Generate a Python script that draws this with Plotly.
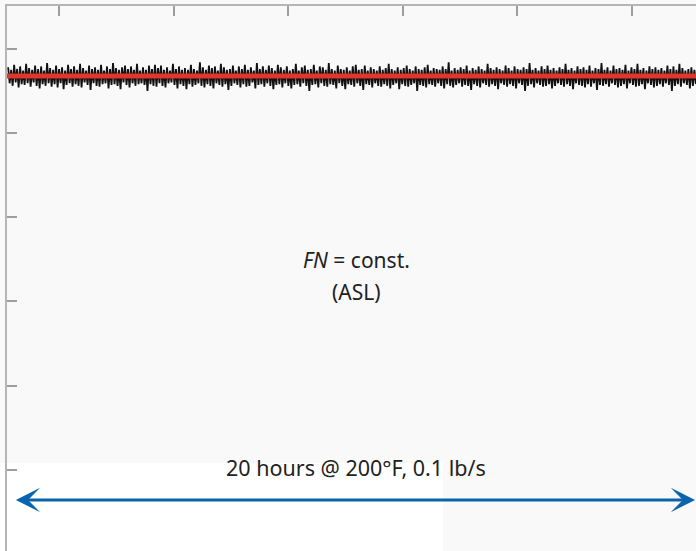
import numpy as np
import plotly.graph_objects as go

# ---------------- data ----------------
# FN signal samples (arbitrary units), noisy trace over the 20 h test
fn_signal = [
    57.8, 55.9, 57.5, 55.6, 58.1, 56.0, 57.6, 55.4, 57.9, 55.8,
    57.4, 55.7, 58.2, 55.9, 57.7, 55.5, 57.5, 56.0, 58.0, 55.6,
    57.6, 55.3, 57.9, 55.8, 57.4, 55.6, 58.3, 55.9, 57.7, 55.5,
    57.5, 55.8, 58.0, 55.4, 57.6, 55.9, 57.8, 55.2, 57.4, 55.7,
    58.1, 55.9, 57.6, 55.5, 57.9, 55.8, 57.5, 55.6, 58.2, 55.4,
    57.7, 56.0, 57.4, 55.7, 58.0, 55.1, 57.6, 55.9, 57.8, 55.6,
    57.5, 55.5, 58.1, 55.8, 57.4, 55.9, 57.9, 55.3, 57.6, 55.7,
    58.3, 55.8, 57.7, 55.6, 57.5, 55.2, 57.8, 56.0, 58.0, 55.7,
    57.6, 55.4, 57.9, 55.9, 57.5, 55.6, 58.2, 55.8, 57.4, 55.9,
    57.8, 55.7, 57.5, 55.0, 58.0, 55.8, 57.6, 55.6, 58.1, 55.5,
    57.7, 55.9, 58.0, 55.6, 57.5, 55.4, 57.8, 55.9, 57.4, 56.0,
    58.2, 55.7, 57.6, 55.3, 57.9, 55.8, 57.5, 55.6, 57.7, 55.2,
    57.5, 55.8, 58.1, 55.5, 57.6, 55.7, 57.4, 55.9, 58.4, 55.6,
    57.8, 55.4, 57.5, 55.8, 58.0, 55.6, 57.7, 55.3, 57.9, 55.9,
    57.4, 55.7, 58.2, 55.5, 57.8, 55.8, 57.5, 55.1, 57.6, 55.6,
    58.0, 55.9, 57.4, 55.7, 57.9, 55.4, 57.6, 55.8, 58.1, 55.5,
    57.5, 55.6, 57.8, 56.0, 57.4, 55.3, 58.3, 55.7, 57.6, 55.8,
    57.9, 55.5, 57.5, 55.9, 58.0, 55.6, 57.7, 55.2, 57.4, 55.7,
    58.1, 55.8, 57.8, 55.4, 57.5, 55.9, 57.9, 55.6, 57.4, 55.3,
    57.6, 55.7, 58.2, 55.8, 57.4, 55.5, 57.8, 55.9, 58.0, 55.6,
    57.5, 55.0, 57.6, 55.7, 58.1, 55.8, 57.4, 55.4, 57.9, 55.9,
    57.8, 55.6, 57.5, 55.5, 58.3, 55.8, 57.6, 55.7, 57.4, 55.3,
    58.0, 55.9, 57.6, 55.6, 57.5, 55.2, 57.8, 55.8, 57.4, 55.7,
    57.9, 55.5, 58.1, 55.9, 57.5, 55.6, 57.6, 55.1, 58.0, 55.8,
    57.4, 55.7, 57.8, 55.4, 57.6, 55.9, 57.4, 55.6, 57.9, 55.5,
    57.5, 55.8, 57.7, 55.6, 58.2, 55.3, 57.6, 55.7, 57.4, 55.9,
    57.8, 55.2, 57.5, 55.8, 57.7, 55.6, 58.0, 55.5, 57.6, 55.7,
    57.4, 55.9, 57.9, 55.0, 57.6, 55.7, 57.5, 55.6, 57.8, 55.4,
    58.1, 55.8, 57.4, 55.7, 57.7, 55.5, 57.6, 55.9, 57.5, 55.6,
    57.9, 55.3, 57.6, 55.8, 58.4, 55.6, 57.4, 55.4, 57.7, 55.7,
    57.5, 55.9, 57.8, 55.5, 57.6, 55.7, 58.0, 55.6, 57.4, 55.1,
    57.7, 55.8, 57.5, 55.6, 57.9, 55.4, 57.6, 55.9, 57.4, 55.7,
    58.2, 55.5, 57.7, 55.8, 57.5, 55.6, 57.8, 55.2, 57.6, 55.9,
    57.4, 55.7, 58.0, 55.5, 57.7, 55.8, 57.4, 55.6, 57.9, 55.3,
    57.6, 55.9, 57.5, 55.7, 57.8, 55.0, 57.6, 55.6, 58.3, 55.8,
    57.5, 55.4, 57.7, 55.9, 57.4, 55.7, 57.9, 55.5, 57.6, 55.6,
    58.0, 55.8, 57.5, 55.3, 57.7, 55.6, 57.4, 55.9, 57.8, 55.7,
    57.6, 55.5, 58.2, 55.8, 57.5, 55.6, 57.7, 55.2, 57.4, 55.9,
    57.9, 55.7, 57.6, 55.6, 57.8, 55.4, 57.5, 55.8, 58.0, 55.5,
    57.4, 55.9, 57.7, 55.1, 57.6, 55.7, 58.3, 55.6, 57.5, 55.8,
    57.8, 55.5, 57.4, 55.9, 58.0, 55.7, 57.6, 55.4, 57.7, 55.6,
    57.5, 55.8, 58.1, 55.3, 57.4, 55.9, 57.8, 55.7, 57.6, 55.5,
    58.2, 55.6, 57.5, 55.8, 57.7, 55.2, 57.4, 55.9, 57.9, 55.7,
    57.6, 55.4, 57.8, 55.6, 57.5, 55.8, 57.7, 55.5, 57.4, 55.9,
    58.0, 55.7, 57.6, 55.0, 57.9, 55.6, 57.5, 55.8, 58.2, 55.5,
    57.7, 55.9, 57.4, 55.7, 57.6, 55.3, 57.8, 55.6, 57.5, 55.8,
]
fn_const_level = 56.75               # red constant FN line (ASL)
time_start, time_end = 0.556, 6.56   # span of the recorded signal

x_range = [0.546, 6.561]
y_range = [0.34, 65.08]

label_center = "<i>FN</i> = const."
label_sub = "(ASL)"
label_bottom = "20 hours @ 200°F, 0.1 lb/s"

arrow_start, arrow_end, arrow_level = 0.610, 6.553, 6.40

# ---------------- figure ----------------
t = np.linspace(time_start, time_end, len(fn_signal))

fig = go.Figure()
fig.add_trace(go.Scatter(
    x=t, y=fn_signal, mode="lines",
    line=dict(color="#111111", width=1.8),
    hoverinfo="skip", showlegend=False,
))
fig.add_trace(go.Scatter(
    x=[x_range[0], x_range[1]], y=[fn_const_level, fn_const_level], mode="lines",
    line=dict(color="#e2352b", width=5),
    hoverinfo="skip", showlegend=False,
))

tick_style = dict(ticks="inside", ticklen=10, tickwidth=2, tickcolor="#9e9e9e",
                  showticklabels=False, showgrid=False, zeroline=False,
                  automargin=False)

fig.update_layout(
    width=696, height=551,
    margin=dict(l=7, r=0, t=6, b=0, pad=0, autoexpand=False),
    paper_bgcolor="#f9f9f9",
    plot_bgcolor="#f9f9f9",
    showlegend=False,
    xaxis=dict(range=x_range, side="top", showline=True, linecolor="#b5b5b5",
               linewidth=2, tick0=0, dtick=1, **tick_style),
    xaxis2=dict(range=x_range, overlaying="x", side="bottom", anchor="y",
                showline=False, tick0=0, dtick=1, **tick_style),
    yaxis=dict(range=y_range, side="left", showline=True, linecolor="#b5b5b5",
               linewidth=2, tick0=0, dtick=10, **tick_style),
    yaxis2=dict(range=y_range, overlaying="y", side="right", anchor="x",
                showline=False, tick0=0, dtick=10, **tick_style),
    font=dict(family="Noto Sans", color="#222222"),
)

# white patch behind the lower label (as in the source image)
fig.add_shape(type="rect", xref="paper", yref="paper",
              x0=-0.02, x1=0.6328, y0=-0.01, y1=0.1615,
              fillcolor="#ffffff", line=dict(width=0), layer="below")

fig.add_annotation(x=3.593, y=34.9, text=label_center, showarrow=False,
                   font=dict(size=21, family="Noto Sans", color="#222222"))
fig.add_annotation(x=3.593, y=31.1, text=label_sub, showarrow=False,
                   font=dict(size=21, family="Noto Sans", color="#222222"))
fig.add_annotation(x=3.593, y=10.3, text=label_bottom, showarrow=False,
                   font=dict(size=21.5, family="Noto Sans", color="#222222"))

fig.add_annotation(
    x=arrow_end, y=arrow_level, ax=arrow_start, ay=arrow_level,
    xref="x", yref="y", axref="x", ayref="y",
    text="", showarrow=True, arrowside="end+start",
    arrowhead=3, startarrowhead=3, arrowsize=1.35, startarrowsize=1.35,
    arrowwidth=3, arrowcolor="#0a63ad", standoff=0, startstandoff=0,
)

fig.write_html(
    "out.html",
    config={"displayModeBar": False},
    post_script="document.body.style.margin='0px';document.body.style.padding='0px';",
)
